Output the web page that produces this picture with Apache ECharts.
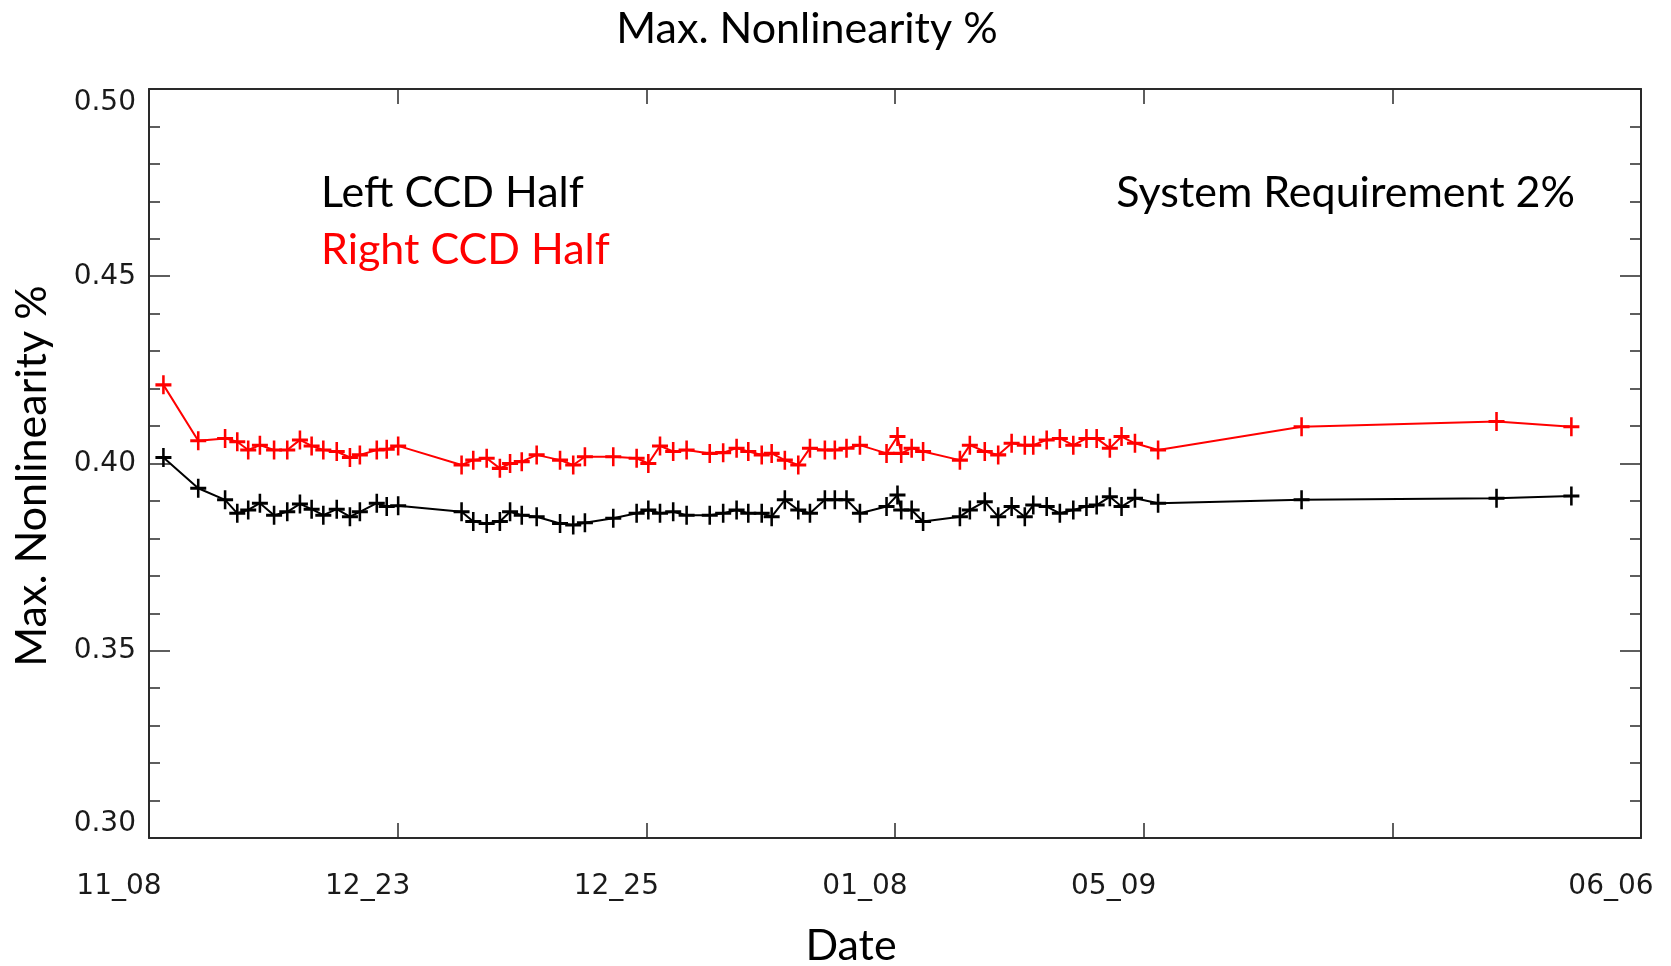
<!DOCTYPE html>
<html>
<head>
<meta charset="utf-8">
<title>Max. Nonlinearity %</title>
<script src="https://cdn.jsdelivr.net/npm/echarts@6/dist/echarts.min.js"></script>
<style>
  html, body { margin: 0; padding: 0; background: #fff; }
  #chart { width: 1671px; height: 966px; }
</style>
</head>
<body>
<div id="chart"></div>
<script>
// tick labels along the bottom axis (one per 10 units)
const xTickLabels = ['11_08', '12_23', '12_25', '01_08', '05_09', '', '06_06']

// measurement positions along the axis (axis runs 0..60)
const xPos = [
  0.58, 1.98, 3.06, 3.55, 3.99, 4.46, 5.03, 5.56, 6.07, 6.54, 7.01, 7.55, 8.08, 8.48, 9.16, 9.56, 10.02,
  12.57, 13.04, 13.58, 14.11, 14.52, 14.99, 15.59, 16.53, 17.06, 17.53, 18.67, 19.61, 20.08, 20.55, 21.08, 21.62, 22.55, 23.09, 23.63,
  24.10, 24.64, 25.04, 25.57, 26.11, 26.58, 27.18, 27.58, 28.05, 28.59, 29.66, 30.10, 30.25, 30.67, 31.13, 32.61, 33.01, 33.61, 34.15, 34.69, 35.22,
  35.56, 36.10, 36.63, 37.17, 37.70, 38.11, 38.64, 39.11, 39.65, 40.58, 46.35, 54.19, 57.20
]

// left CCD half (black)
const leftHalf = [
  0.4016, 0.3934, 0.3903, 0.3867, 0.3876, 0.3894, 0.3862, 0.3871, 0.3892, 0.3878, 0.3862, 0.3878, 0.3858, 0.3871, 0.3894, 0.3885, 0.3887,
  0.3871, 0.3845, 0.3840, 0.3845, 0.3871, 0.3862, 0.3858, 0.3840, 0.3836, 0.3842, 0.3854, 0.3867, 0.3876, 0.3867, 0.3871, 0.3862, 0.3862, 0.3867, 0.3876,
  0.3867, 0.3867, 0.3858, 0.3903, 0.3876, 0.3867, 0.3903, 0.3903, 0.3903, 0.3867, 0.3885, 0.3916, 0.3876, 0.3876, 0.3845, 0.3858, 0.3876, 0.3898, 0.3858, 0.3885, 0.3858,
  0.3889, 0.3885, 0.3867, 0.3876, 0.3885, 0.3889, 0.3911, 0.3885, 0.3907, 0.3894, 0.3903, 0.3907, 0.3913
]

// right CCD half (red)
const rightHalf = [
  0.4210, 0.4061, 0.4067, 0.4058, 0.4036, 0.4049, 0.4036, 0.4036, 0.4063, 0.4047, 0.4036, 0.4032, 0.4016, 0.4023, 0.4036, 0.4038, 0.4047,
  0.3996, 0.4009, 0.4014, 0.3987, 0.4000, 0.4005, 0.4023, 0.4009, 0.3996, 0.4018, 0.4018, 0.4014, 0.4000, 0.4047, 0.4032, 0.4036, 0.4027, 0.4029, 0.4041,
  0.4032, 0.4023, 0.4027, 0.4009, 0.3996, 0.4041, 0.4036, 0.4036, 0.4041, 0.4049, 0.4027, 0.4072, 0.4027, 0.4041, 0.4032, 0.4009, 0.4049, 0.4032, 0.4023, 0.4054, 0.4049,
  0.4049, 0.4063, 0.4067, 0.4049, 0.4067, 0.4067, 0.4041, 0.4072, 0.4054, 0.4036, 0.4098, 0.4112, 0.4098
]

const plusSymbol = 'path://M-1.6,-10H1.6V-1.6H10V1.6H1.6V10H-1.6V1.6H-10V-1.6H-1.6Z'
const tickFont = { fontFamily: 'DejaVu Sans', fontSize: 28, color: '#1a1a1a' }
const textFont = '43px Lato'

const chart = echarts.init(document.getElementById('chart'))

// x axis (bottom with labels, top mirrored)
const makeXAxis = (position, showLabel) => ({
  type: 'value',
  position,
  min: 0,
  max: 60,
  interval: 10,
  axisLine: { show: true, onZero: false, lineStyle: { color: '#2a2a2a', width: 2 } },
  axisTick: { show: true, inside: true, length: 15, lineStyle: { color: '#2a2a2a', width: 1.5 } },
  axisLabel: {
    show: showLabel,
    ...tickFont,
    margin: 35,
    padding: [0, 60, 0, 0],
    formatter: v => xTickLabels[Math.round(v / 10)] || ''
  },
  splitLine: { show: false }
})

// y axis (left with labels, right mirrored)
const makeYAxis = (position, showLabel) => ({
  type: 'value',
  position,
  min: 0.30,
  max: 0.50,
  interval: 0.05,
  axisLine: { show: true, onZero: false, lineStyle: { color: '#2a2a2a', width: 2 } },
  axisTick: { show: true, inside: true, length: 21, lineStyle: { color: '#2a2a2a', width: 1.5 } },
  minorTick: { show: true, splitNumber: 5, length: 11, lineStyle: { color: '#2a2a2a', width: 1.5 } },
  axisLabel: {
    show: showLabel,
    ...tickFont,
    margin: 13,
    verticalAlignMinLabel: 'bottom',
    verticalAlignMaxLabel: 'top',
    formatter: v => v.toFixed(2)
  },
  splitLine: { show: false }
})

const makeSeries = (name, values, color) => ({
  name,
  type: 'line',
  xAxisIndex: 0,
  yAxisIndex: 0,
  data: xPos.map((x, i) => [x, values[i]]),
  symbol: plusSymbol,
  symbolSize: [16, 19],
  showAllSymbol: true,
  itemStyle: { color },
  lineStyle: { color, width: 2 },
  animation: false
})

const option = {
  backgroundColor: '#fff',
  animation: false,
  grid: { left: 149, right: 30, top: 89, bottom: 128 },
  xAxis: [makeXAxis('bottom', true), makeXAxis('top', false)],
  yAxis: [makeYAxis('left', true), makeYAxis('right', false)],
  series: [
    makeSeries('Right CCD Half', rightHalf, '#ff0000'),
    makeSeries('Left CCD Half', leftHalf, '#000000')
  ],
  graphic: [
    { type: 'text', x: 807, y: 29, style: { text: 'Max. Nonlinearity %', font: textFont, fill: '#000', align: 'center', verticalAlign: 'middle' } },
    { type: 'text', x: 32, y: 476, rotation: Math.PI / 2, style: { text: 'Max. Nonlinearity %', font: textFont, fill: '#000', align: 'center', verticalAlign: 'middle' } },
    { type: 'text', x: 851, y: 946, style: { text: 'Date', font: textFont, fill: '#000', align: 'center', verticalAlign: 'middle' } },
    { type: 'text', x: 321, y: 193, style: { text: 'Left CCD Half', font: textFont, fill: '#000', align: 'left', verticalAlign: 'middle' } },
    { type: 'text', x: 321, y: 250, style: { text: 'Right CCD Half', font: textFont, fill: '#ff0000', align: 'left', verticalAlign: 'middle' } },
    { type: 'text', x: 1575, y: 193, style: { text: 'System Requirement 2%', font: textFont, fill: '#000', align: 'right', verticalAlign: 'middle' } }
  ]
}

chart.setOption(option)
</script>
</body>
</html>
